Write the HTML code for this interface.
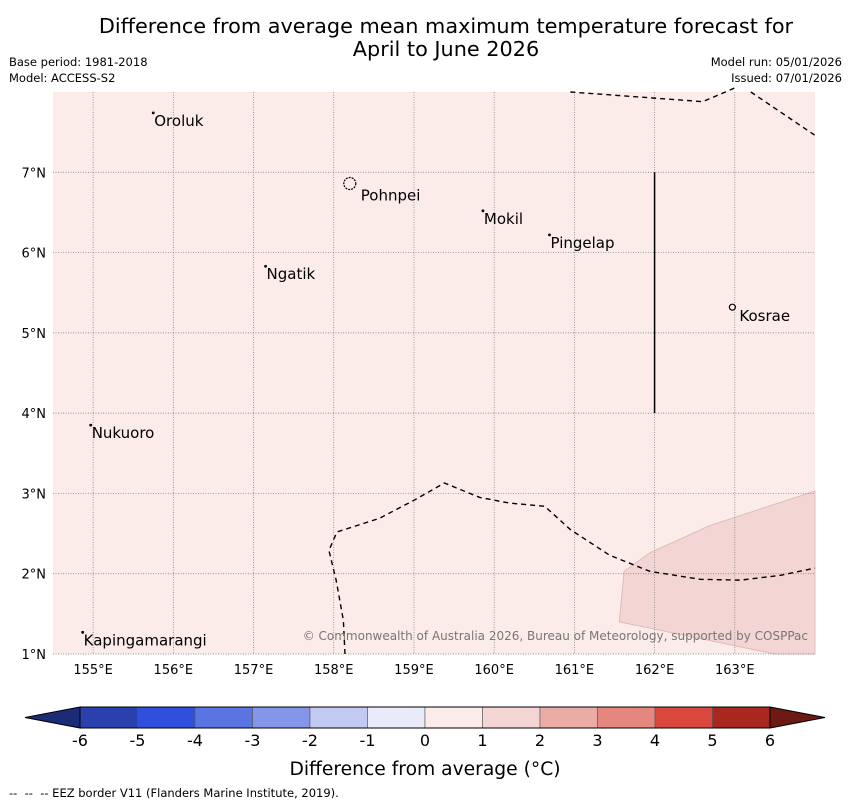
<!DOCTYPE html>
<html><head><meta charset="utf-8"><style>
body{margin:0;background:#fff;font-family:"Liberation Sans","DejaVu Sans",sans-serif;}
</style></head><body>
<svg width="850" height="804" xmlns="http://www.w3.org/2000/svg" font-family="DejaVu Sans, Liberation Sans, sans-serif">
<text x="446" y="33" text-anchor="middle" font-size="20.8">Difference from average mean maximum temperature forecast for</text>
<text x="446" y="56" text-anchor="middle" font-size="20.8">April to June 2026</text>
<text x="9" y="66" font-size="11.5">Base period: 1981-2018</text>
<text x="9" y="82" font-size="11.5">Model: ACCESS-S2</text>
<text x="842" y="66" font-size="11.5" text-anchor="end">Model run: 05/01/2026</text>
<text x="842" y="82" font-size="11.5" text-anchor="end">Issued: 07/01/2026</text>
<g id="map"></g>
<g id="cbar"></g>
<text x="425" y="775" text-anchor="middle" font-size="18.7">Difference from average (°C)</text>
<text x="9" y="797" font-size="11.5" xml:space="preserve">--  --  -- EEZ border V11 (Flanders Marine Institute, 2019).</text>
</svg>
<script>
const lonTicks=[155,156,157,158,159,160,161,162,163];
const latTicks=[1,2,3,4,5,6,7];
const placeNames=["Oroluk","Pohnpei","Mokil","Pingelap","Ngatik","Kosrae","Nukuoro","Kapingamarangi"];
const placeLons=[155.75,158.2,159.86,160.69,157.15,162.97,154.97,154.87];
const placeLats=[7.74,6.86,6.52,6.22,5.83,5.32,3.85,1.27];
const cbLevels=[-6,-5,-4,-3,-2,-1,0,1,2,3,4,5,6];
const cbColors=["#2a40ae","#2f4fdc","#5a75e2","#8496ea","#c2c9f3","#e9ebfb","#fcebe9","#f3d5d3","#ecaca6","#e5877f","#d9473d","#a8271f"];
const eezTopLon=[160.95,162.6,163.0],eezTopLat=[8.0,7.88,8.05];
const eezTop2Lon=[163.2,164.0],eezTop2Lat=[8.0,7.46];
const eezBotLon=[158.14,158.12,158.03,157.94,158.04,158.57,159.01,159.38,159.82,160.19,160.63,160.95,161.44,161.94,162.57,163.07,163.57,164.0];
const eezBotLat=[1.0,1.42,1.92,2.29,2.52,2.69,2.92,3.13,2.95,2.88,2.84,2.55,2.23,2.03,1.93,1.92,1.98,2.07];
const shadeLon=[161.62,161.94,162.69,164.0,164.0,163.5,161.56];
const shadeLat=[2.03,2.26,2.6,3.03,1.0,1.0,1.4];
const NS="http://www.w3.org/2000/svg";
const X0=53,X1=815,Y0=92,Y1=654,LON0=154.5,LON1=164.0,LAT0=1.0,LAT1=8.0;
const xs=l=>X0+(l-LON0)/(LON1-LON0)*(X1-X0);
const ys=l=>Y1-(l-LAT0)/(LAT1-LAT0)*(Y1-Y0);
function mk(t,a,p){const e=document.createElementNS(NS,t);for(const k in a)e.setAttribute(k,a[k]);(p||map).appendChild(e);return e;}
const map=document.getElementById('map');
let r=mk('rect',{x:X0,y:Y0,width:X1-X0,height:Y1-Y0,fill:'#fbebe9'});

const pts=(a,b)=>a.map((v,i)=>xs(v)+','+ys(b[i])).join(' ');
let sh=mk('polygon',{points:pts(shadeLon,shadeLat),fill:'#f3d5d3',stroke:'#d9b5b2','stroke-width':0.8});

lonTicks.forEach(l=>{const x=xs(l);
 const g=mk('line',{x1:x,x2:x,y1:Y0,y2:Y1,stroke:'#777','stroke-width':0.7,'stroke-dasharray':'1,1.5'});
 
 const t=mk('text',{x:x,y:674,'text-anchor':'middle','font-size':13});t.textContent=l+'°E';
 });
latTicks.forEach(l=>{const y=ys(l);
 const g=mk('line',{x1:X0,x2:X1,y1:y,y2:y,stroke:'#777','stroke-width':0.7,'stroke-dasharray':'1,1.5'});
 
 const t=mk('text',{x:46,y:y+5,'text-anchor':'end','font-size':13});t.textContent=l+'°N';
 });
[[eezTopLon,eezTopLat],[eezTop2Lon,eezTop2Lat],[eezBotLon,eezBotLat]].forEach(([a,b])=>{
 const p=mk('polyline',{points:pts(a,b),fill:'none',stroke:'#000','stroke-width':1.4,'stroke-dasharray':'5,4'});
 });
let v=mk('line',{x1:xs(162),x2:xs(162),y1:ys(7),y2:ys(4),stroke:'#000','stroke-width':1.5});

placeNames.forEach((n,i)=>{const x=xs(placeLons[i]),y=ys(placeLats[i]);
 const m=mk('circle',{cx:x,cy:y,r:n=="Pohnpei"?6:(n=="Kosrae"?3:0.8),fill:'none',stroke:'#000','stroke-width':1.2,'stroke-dasharray':n=="Pohnpei"?'2,1':'none'});
 
 const dx=n=="Pohnpei"?11:(n=="Kosrae"?7:1),dy=n=="Pohnpei"?17:(n=="Kosrae"?14:13);
 const t=mk('text',{x:x+dx,y:y+dy,'font-size':15});t.textContent=n;
 });
let c=mk('text',{x:808,y:640,'text-anchor':'end','font-size':12,fill:'#777'});
c.textContent='© Commonwealth of Australia 2026, Bureau of Meteorology, supported by COSPPac';

const cb=document.getElementById('cbar');const CX0=80,CX1=770,CY0=707,CY1=728;
const cw=(CX1-CX0)/cbColors.length;
let e1=mk('polygon',{points:`${CX0},${CY0} 25,${(CY0+CY1)/2} ${CX0},${CY1}`,fill:'#1c2b78',stroke:'#000','stroke-width':1},cb);

let e2=mk('polygon',{points:`${CX1},${CY0} 825,${(CY0+CY1)/2} ${CX1},${CY1}`,fill:'#6e1a14',stroke:'#000','stroke-width':1},cb);

cbColors.forEach((col,i)=>{const s=mk('rect',{x:CX0+i*cw,y:CY0,width:cw,height:CY1-CY0,fill:col,stroke:'#555','stroke-width':0.6},cb);
 });
let b=mk('rect',{x:CX0,y:CY0,width:CX1-CX0,height:CY1-CY0,fill:'none',stroke:'#000','stroke-width':1},cb);

cbLevels.forEach((l,i)=>{const t=mk('text',{x:CX0+i*cw,y:746,'text-anchor':'middle','font-size':16},cb);t.textContent=l;
 });
</script>
</body></html>
